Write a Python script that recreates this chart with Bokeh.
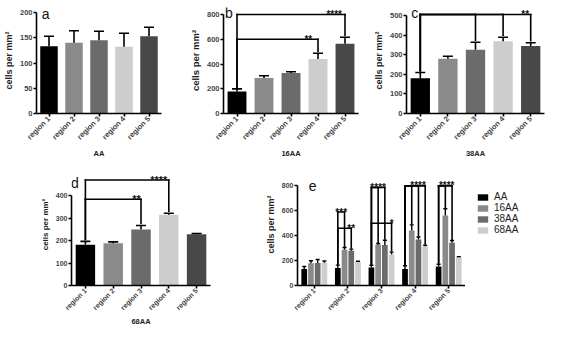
from math import pi
from bokeh.plotting import figure
from bokeh.models import (FactorRange, Range1d, ColumnDataSource, Whisker, TeeHead,
                          Label, Legend, LegendItem, FixedTicker)
from bokeh.layouts import column, row
from bokeh.embed import file_html
from bokeh.resources import INLINE
from bokeh.core.properties import value

# ---------------- data ----------------
regions = ["region 1", "region 2", "region 3", "region 4", "region 5"]
series = ["AA", "16AA", "38AA", "68AA"]

aa_mean = [133, 140, 145, 132, 153]
aa_err = [20, 24, 18, 27, 18]
aa16_mean = [178, 287, 327, 441, 563]
aa16_err = [21, 18, 10, 46, 54]
aa38_mean = [180, 279, 325, 369, 344]
aa38_err = [29, 13, 39, 20, 17]
aa68_mean = [182, 189, 250, 316, 229]
aa68_err = [15, 6, 18, 7, 3]

a_ticks = [0, 50, 100, 150, 200]
b_ticks = [0, 200, 400, 600, 800]
c_ticks = [0, 100, 200, 300, 400, 500]
d_ticks = [0, 100, 200, 300, 400]
e_ticks = [0, 200, 400, 600, 800]

# comparisons: (from, to, bracket level, significance)
b_comps = [("region 1", "region 5", 800, "****"), ("region 1", "region 4", 600, "**")]
c_comps = [("region 1", "region 3", 505, ""), ("region 1", "region 4", 505, ""),
           ("region 1", "region 5", 505, "**")]
d_comps = [("region 1", "region 4", 471, "****"), ("region 1", "region 3", 385, "**")]
e_comps = [("region 2", "AA", "16AA", 590, "***"), ("region 2", "AA", "38AA", 460, "**"),
           ("region 3", "AA", "16AA", 787, ""), ("region 3", "AA", "38AA", 787, "****"),
           ("region 3", "AA", "68AA", 500, "*"),
           ("region 4", "AA", "16AA", 800, ""), ("region 4", "AA", "38AA", 800, ""),
           ("region 4", "AA", "68AA", 800, "****"),
           ("region 5", "AA", "16AA", 800, ""), ("region 5", "AA", "38AA", 800, "****")]

# ---------------- style ----------------
FONT = "Liberation Sans"
region_colors = ["#000000", "#8a8a8a", "#6b6b6b", "#cdcdcd", "#484848"]
series_colors = ["#000000", "#8a8a8a", "#6b6b6b", "#cdcdcd"]
series_offsets = [-0.3, -0.1, 0.1, 0.3]
LW = 1.6

TOP_H, TOP_T, TOP_B = 163, 7, 50
BOT_H, BOT_T, BOT_B = 165, 0, 39


def style_axes(p, ticks, xlabel, ylab_size, tick_size, title_standoff):
    p.grid.visible = False
    p.outline_line_color = None
    for ax in (p.xaxis[0], p.yaxis[0]):
        ax.axis_line_width = LW
        ax.major_tick_line_width = LW
        ax.major_tick_out = 3
        ax.major_tick_in = 0
        ax.minor_tick_line_color = None
        ax.major_label_text_font = FONT
        ax.major_label_text_font_style = "bold"
        ax.major_label_text_font_size = tick_size
        ax.major_label_standoff = 1
        ax.axis_label_text_font = FONT
        ax.axis_label_text_font_style = "bold"
        ax.axis_label_text_color = "#222222"
    p.yaxis.ticker = FixedTicker(ticks=ticks)
    p.yaxis.bounds = (0, ticks[-1])
    p.yaxis.axis_label = "cells per mm²"
    p.yaxis.axis_label_text_font_size = ylab_size
    p.yaxis.axis_label_standoff = 3
    p.xaxis.major_label_orientation = pi / 4
    if xlabel:
        p.xaxis.axis_label = xlabel
        p.xaxis.axis_label_text_font_size = "7.5px"
        p.xaxis.axis_label_standoff = title_standoff


def base_fig(width, height, left, right, top, bottom, y_end, ticks, xlabel,
             ylab_size="9px", tick_size="7.5px", title_standoff=2, no_title=True):
    kw = dict(title=None) if no_title else {}
    p = figure(x_range=FactorRange(*regions), y_range=Range1d(0, y_end), width=width,
               height=height, output_backend="svg", toolbar_location=None,
               min_border_left=left, min_border_right=right, min_border_top=top,
               min_border_bottom=bottom, **kw)
    style_axes(p, ticks, xlabel, ylab_size, tick_size, title_standoff)
    return p


def letter(p, txt, x, y):
    p.add_layout(Label(x=x, y=y, text=txt, text_font=FONT, text_font_size="14px",
                       text_align="center", text_baseline="middle", text_color="#111111"))


def stars(p, sx, sy, st, size):
    p.text(x=sx, y=sy, text=st, text_font=value(FONT), text_font_style="bold",
           text_font_size=size, text_align="center", text_baseline="alphabetic",
           text_color="#111111")


def bars(p, means, errs, width=0.7, head=10):
    src = ColumnDataSource(dict(x=regions, top=means,
                                up=[m + e for m, e in zip(means, errs)],
                                color=region_colors))
    p.vbar(x="x", top="top", width=width, fill_color="color", line_color=None, source=src)
    p.add_layout(Whisker(base="x", lower="top", upper="up", source=src, line_width=LW,
                         line_color="black", upper_head=TeeHead(size=head, line_width=LW),
                         lower_head=None, level="glyph"))


def brackets(p, comps, means, errs, gap, fracs, star_size="11px"):
    x0, y0, x1, y1, sx, sy, st = [], [], [], [], [], [], []
    for (c0, c1, lvl, lab), fr in zip(comps, fracs):
        i0, i1 = regions.index(c0), regions.index(c1)
        p0, p1 = i0 + 0.5, i1 + 0.5
        x0 += [p0, p0, p1]
        x1 += [p1, p0, p1]
        y0 += [lvl, lvl, lvl]
        y1 += [lvl, means[i0] + errs[i0] + gap, means[i1] + errs[i1] + gap]
        if lab:
            sx.append(p0 + fr * (p1 - p0))
            sy.append(lvl)
            st.append(lab)
    p.segment(x0=x0, y0=y0, x1=x1, y1=y1, line_width=LW, line_color="black",
              line_cap="square")
    stars(p, sx, sy, st, star_size)


# ---------------- panel a ----------------
pa = base_fig(186, TOP_H, 25, 25, TOP_T, TOP_B, 210, a_ticks, "AA")
bars(pa, aa_mean, aa_err)
letter(pa, "a", 0.37, 198)

# ---------------- panel b ----------------
pb = base_fig(183, TOP_H, 33, 11, TOP_T, TOP_B, 857, b_ticks, "16AA", ylab_size="9.5px")
bars(pb, aa16_mean, aa16_err)
brackets(pb, b_comps, aa16_mean, aa16_err, 14, [0.9, 0.88], star_size="10px")
letter(pb, "b", 0.2, 812)

# ---------------- panel c ----------------
pc = base_fig(177, TOP_H, 37, 2, TOP_T, TOP_B, 541, c_ticks, "38AA")
bars(pc, aa38_mean, aa38_err)
brackets(pc, c_comps, aa38_mean, aa38_err, 10, [1, 1, 0.95], star_size="10px")
letter(pc, "c", 0.3, 512)

# ---------------- panel d ----------------
pd_ = base_fig(229, BOT_H, 71, 19, BOT_T, BOT_B, 545, d_ticks, "68AA",
               ylab_size="8px", tick_size="7px", title_standoff=0, no_title=False)
bars(pd_, aa68_mean, aa68_err)
brackets(pd_, d_comps, aa68_mean, aa68_err, 9, [0.88, 0.92])
letter(pd_, "d", 0.12, 458)

# ---------------- panel e ----------------
pe = base_fig(236, BOT_H, 68, 0, BOT_T, BOT_B, 980, e_ticks, "", ylab_size="9px",
              tick_size="7px", no_title=False)
all_means = [aa_mean, aa16_mean, aa38_mean, aa68_mean]
all_errs = [aa_err, aa16_err, aa38_err, aa68_err]
for s, m, e, col, off in zip(series, all_means, all_errs, series_colors, series_offsets):
    src = ColumnDataSource(dict(x=[i + 0.5 + off for i in range(len(regions))], top=m,
                                up=[a + b for a, b in zip(m, e)]))
    pe.vbar(x="x", top="top", width=0.17, fill_color=col, line_color=None, source=src)
    pe.add_layout(Whisker(base="x", lower="top", upper="up", source=src, line_width=1.4,
                          line_color="black", upper_head=TeeHead(size=4, line_width=1.4),
                          lower_head=None, level="glyph"))

ex0, ey0, ex1, ey1, esx, esy, est = [], [], [], [], [], [], []
e_fracs = [0.5, 1.0, 0.5, 0.5, 1.0, 0.5, 0.5, 0.65, 0.5, 0.6]
egap = 10
for (reg, g0, g1, lvl, lab), fr in zip(e_comps, e_fracs):
    ri = regions.index(reg)
    k0, k1 = series.index(g0), series.index(g1)
    p0 = ri + 0.5 + series_offsets[k0]
    p1 = ri + 0.5 + series_offsets[k1]
    ex0 += [p0, p0, p1]
    ex1 += [p1, p0, p1]
    ey0 += [lvl, lvl, lvl]
    ey1 += [lvl, all_means[k0][ri] + all_errs[k0][ri] + egap,
            all_means[k1][ri] + all_errs[k1][ri] + egap]
    if lab:
        esx.append(p0 + fr * (p1 - p0))
        esy.append(lvl)
        est.append(lab)
pe.segment(x0=ex0, y0=ey0, x1=ex1, y1=ey1, line_width=LW, line_color="black",
           line_cap="square")
stars(pe, esx, esy, est, "10px")
letter(pe, "e", 0.45, 800)

# ---------------- legend for e (same series, drawn in a side figure) ----------------
pl = figure(width=81, height=BOT_H, x_range=Range1d(0, 1), y_range=Range1d(0, 1),
            output_backend="svg", toolbar_location=None, x_axis_location=None,
            y_axis_location=None, min_border_left=0, min_border_right=0,
            min_border_top=BOT_T, min_border_bottom=BOT_B)
pl.grid.visible = False
pl.outline_line_color = None
items = []
for s, m, col in zip(series, all_means, series_colors):
    r = pl.vbar(x=list(range(len(regions))), top=m, width=0.17, fill_color=col,
                line_color=None, visible=False)
    items.append(LegendItem(label=s, renderers=[r]))
legend = Legend(items=items, location=(11, 50), label_text_font=FONT,
                label_text_font_size="10px", glyph_width=13, glyph_height=8,
                label_height=9, spacing=0, padding=0, margin=0, border_line_color=None,
                background_fill_alpha=0, label_standoff=5, label_text_color="#222222",
                inactive_fill_alpha=0)
pl.add_layout(legend)

layout = column(row(pa, pb, pc), row(pd_, pe, pl))
open("out.html", "w").write(file_html(layout, INLINE))
